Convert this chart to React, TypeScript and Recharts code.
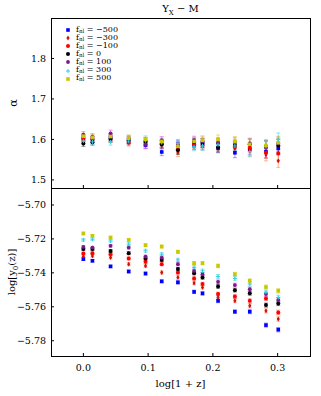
import React from "react";
import { ScatterChart, Scatter, XAxis, YAxis, ErrorBar } from "recharts";

// log(1+z) of each snapshot
const logz = [0.0, 0.014, 0.042, 0.07, 0.096, 0.121, 0.146, 0.171, 0.184, 0.208, 0.234, 0.257, 0.282, 0.301];

// alpha (top panel), one array per f_nl
const alphaM500 = [1.603, 1.6, 1.605, 1.598, 1.586, 1.569, 1.588, 1.585, 1.59, 1.578, 1.567, 1.575, 1.57, 1.578];
const alphaM300 = [1.6, 1.598, 1.604, 1.594, 1.59, 1.585, 1.568, 1.59, 1.587, 1.583, 1.578, 1.572, 1.562, 1.547];
const alphaM100 = [1.602, 1.601, 1.6, 1.592, 1.592, 1.59, 1.575, 1.588, 1.585, 1.59, 1.582, 1.58, 1.568, 1.565];
const alphaZero = [1.59, 1.593, 1.602, 1.598, 1.595, 1.588, 1.573, 1.593, 1.591, 1.58, 1.586, 1.588, 1.582, 1.585];
const alphaP100 = [1.612, 1.607, 1.615, 1.602, 1.587, 1.598, 1.585, 1.598, 1.595, 1.593, 1.592, 1.59, 1.58, 1.59];
const alphaP300 = [1.596, 1.594, 1.594, 1.596, 1.597, 1.592, 1.59, 1.582, 1.584, 1.587, 1.584, 1.57, 1.583, 1.6];
const alphaP500 = [1.608, 1.605, 1.607, 1.603, 1.6, 1.595, 1.583, 1.595, 1.598, 1.6, 1.595, 1.588, 1.585, 1.592];
const alphaErr = [0.007, 0.007, 0.008, 0.008, 0.009, 0.009, 0.01, 0.01, 0.011, 0.011, 0.012, 0.013, 0.015, 0.016];

// log y0(z) (bottom panel)
const y0M500 = [-5.7319, -5.7329, -5.7362, -5.7392, -5.7404, -5.745, -5.7456, -5.7512, -5.7521, -5.7565, -5.7629, -5.7629, -5.7708, -5.7735];
const y0M300 = [-5.7303, -5.73, -5.731, -5.7349, -5.7359, -5.7398, -5.7427, -5.746, -5.7486, -5.7545, -5.7565, -5.7594, -5.7624, -5.7672];
const y0M100 = [-5.7286, -5.7284, -5.729, -5.7315, -5.7335, -5.7349, -5.7398, -5.7433, -5.7466, -5.7525, -5.754, -5.7565, -5.7551, -5.7633];
const y0Zero = [-5.726, -5.726, -5.7271, -5.7284, -5.7315, -5.7324, -5.7378, -5.7402, -5.7427, -5.748, -5.7502, -5.752, -5.759, -5.758];
const y0P100 = [-5.7247, -5.7251, -5.7241, -5.7251, -5.7304, -5.731, -5.7349, -5.7388, -5.7408, -5.7453, -5.7472, -5.7496, -5.7525, -5.756];
const y0P300 = [-5.7206, -5.7202, -5.7212, -5.7231, -5.727, -5.729, -5.7324, -5.7368, -5.7388, -5.7421, -5.7433, -5.7466, -5.7515, -5.7545];
const y0P500 = [-5.7168, -5.7182, -5.7192, -5.7206, -5.7237, -5.7245, -5.7276, -5.7343, -5.7343, -5.7359, -5.7408, -5.7447, -5.7484, -5.7506];
const y0Err = [0.0008, 0.0008, 0.0008, 0.0009, 0.0009, 0.0009, 0.001, 0.001, 0.001, 0.0011, 0.0011, 0.0012, 0.0012, 0.0013];

const fnlLabels = ["−500", "−300", "−100", "0", "100", "300", "500"];
const xTicks = [0, 0.1, 0.2, 0.3];
const xDomain = [-0.05, 0.35];

const series = [
  { name: fnlLabels[0], alpha: alphaM500, y0: y0M500, color: "#0000ff", err: "rgba(80,80,255,0.55)", kind: "square" },
  { name: fnlLabels[1], alpha: alphaM300, y0: y0M300, color: "#cc1010", err: "rgba(255,120,60,0.55)", kind: "diamond" },
  { name: fnlLabels[2], alpha: alphaM100, y0: y0M100, color: "#ff0000", err: "rgba(255,60,60,0.5)", kind: "circle" },
  { name: fnlLabels[3], alpha: alphaZero, y0: y0Zero, color: "#000000", err: "rgba(0,0,0,0.45)", kind: "circle" },
  { name: fnlLabels[4], alpha: alphaP100, y0: y0P100, color: "#7a1a8a", err: "rgba(230,60,230,0.55)", kind: "pentagon" },
  { name: fnlLabels[5], alpha: alphaP300, y0: y0P300, color: "#30d0e0", err: "rgba(60,210,230,0.55)", kind: "plus" },
  { name: fnlLabels[6], alpha: alphaP500, y0: y0P500, color: "#c8c800", err: "rgba(210,200,0,0.55)", kind: "square" },
];

const FONT = "'DejaVu Serif', serif";
const tickStyle = { fill: "#000", fontSize: 9.5, fontFamily: FONT };
const fmt = (v: number) => (v < 0 ? "−" + Math.abs(v).toFixed(2) : v.toFixed(1));
const blank = () => "";

function Marker({ cx, cy, kind, color }: any) {
  if (cx == null || cy == null) return null;
  if (kind === "square") return <rect x={cx - 1.8} y={cy - 1.8} width={3.6} height={3.6} fill={color} />;
  if (kind === "diamond")
    return <path d={`M${cx},${cy - 2.4}L${cx + 1.6},${cy}L${cx},${cy + 2.4}L${cx - 1.6},${cy}Z`} fill={color} />;
  if (kind === "plus")
    return (
      <path d={`M${cx - 2},${cy}H${cx + 2}M${cx},${cy - 2}V${cy + 2}`} stroke={color} strokeWidth={1} fill="none" />
    );
  if (kind === "pentagon") return <circle cx={cx} cy={cy} r={1.9} fill={color} />;
  return <circle cx={cx} cy={cy} r={2} fill={color} />;
}

function Legend() {
  return (
    <div style={{ position: "absolute", left: 64, top: 26, fontFamily: FONT, fontSize: 8, lineHeight: "8.1px" }}>
      {series.map((s) => (
        <div key={s.name} style={{ display: "flex", alignItems: "center", height: 8.1 }}>
          <svg width={8} height={8} style={{ marginRight: 4 }}>
            <Marker cx={4} cy={4} kind={s.kind} color={s.color} />
          </svg>
          <span>
            f<sub style={{ fontSize: 5.5, verticalAlign: "-1px" }}>nl</sub> = {s.name}
          </span>
        </div>
      ))}
    </div>
  );
}

function Panel({ field, domain, ticks, height, bottom, errs }: any) {
  return (
    <ScatterChart
      width={321}
      height={height}
      margin={{ top: bottom ? 0 : 18, right: 11, bottom: 0, left: 0 }}
    >
      <XAxis
        type="number"
        dataKey="x"
        domain={xDomain}
        ticks={xTicks}
        allowDataOverflow
        height={bottom ? 40 : 1}
        tickSize={-3}
        tickMargin={11}
        tick={tickStyle}
        tickFormatter={bottom ? (v: number) => v.toFixed(1) : blank}
        axisLine={false}
        stroke="#000"
        label={
          bottom
            ? { value: "log[1 + z]", position: "insideBottom", offset: 9, style: { fontFamily: FONT, fontSize: 10, fill: "#000" } }
            : undefined
        }
      />
      <YAxis
        type="number"
        dataKey="y"
        domain={domain}
        ticks={ticks}
        allowDataOverflow
        width={51}
        tickSize={-3}
        tickMargin={8}
        tick={tickStyle}
        tickFormatter={fmt}
        axisLine={false}
        stroke="#000"
      />
      {series.map((s) => (
        <Scatter
          key={s.name}
          data={logz.map((x, i) => ({ x, y: s[field as "alpha" | "y0"][i], err: errs[i] }))}
          isAnimationActive={false}
          shape={(p: any) => <Marker cx={p.cx} cy={p.cy} kind={s.kind} color={s.color} />}
        >
          <ErrorBar dataKey="err" direction="y" width={2} stroke={s.err} strokeWidth={1} />
        </Scatter>
      ))}
    </ScatterChart>
  );
}

const frame = { position: "absolute" as const, left: 51, width: 260, border: "1px solid #000", boxSizing: "border-box" as const, pointerEvents: "none" as const };

export default function App() {
  return (
    <div style={{ position: "absolute", left: 0, top: 0, width: 321, height: 396, background: "#fff", fontFamily: FONT }}>
      <div style={{ position: "absolute", left: 0, top: 0 }}>
        <Panel field="alpha" domain={[1.48, 1.9]} ticks={[1.5, 1.6, 1.7, 1.8]} height={189} bottom={false} errs={alphaErr} />
      </div>
      <div style={{ position: "absolute", left: 0, top: 188 }}>
        <Panel
          field="y0"
          domain={[-5.789, -5.69]}
          ticks={[-5.78, -5.76, -5.74, -5.72, -5.7]}
          height={208}
          bottom
          errs={y0Err}
        />
      </div>
      <div style={{ ...frame, top: 18, height: 171 }} />
      <div style={{ ...frame, top: 188, height: 169 }} />
      <div style={{ position: "absolute", left: 51, width: 259, top: 3, textAlign: "center", fontSize: 10 }}>
        Y<sub style={{ fontSize: 7 }}>X</sub> − M
      </div>
      <div
        style={{ position: "absolute", left: 13, top: 103, transform: "translate(-50%,-50%) rotate(-90deg)", fontSize: 11, whiteSpace: "nowrap" }}
      >
        α
      </div>
      <div
        style={{ position: "absolute", left: 13, top: 272, transform: "translate(-50%,-50%) rotate(-90deg)", fontSize: 10, whiteSpace: "nowrap" }}
      >
        log[y<sub style={{ fontSize: 7 }}>0</sub>(z)]
      </div>
      <Legend />
    </div>
  );
}
